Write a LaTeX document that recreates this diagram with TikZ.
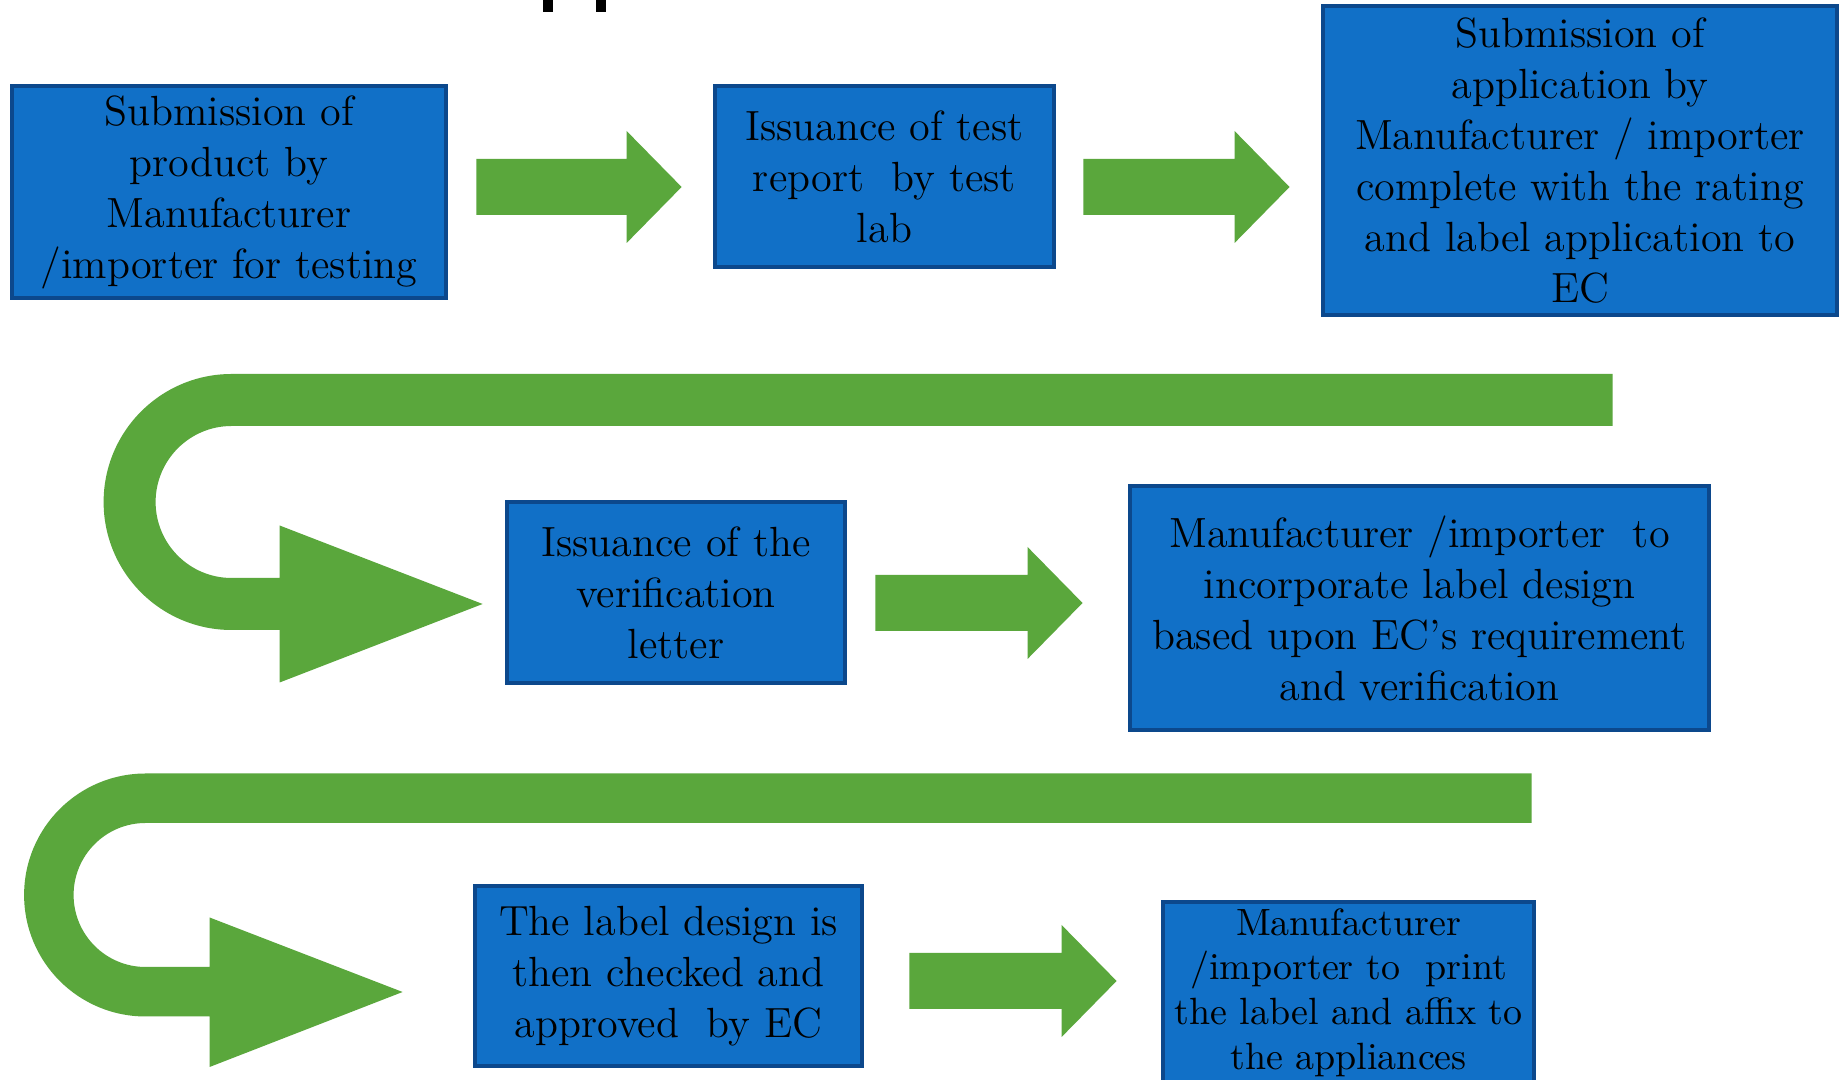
\documentclass[tikz,border=0pt]{standalone}
\usepackage{tikz}
\usetikzlibrary{calc}
\definecolor{boxblue}{RGB}{17,112,199}
\definecolor{boxedge}{RGB}{12,72,140}
\definecolor{arrowgreen}{RGB}{90,167,60}
\tikzset{
	procbox/.style={draw=boxedge, line width=1.3pt, fill=boxblue, align=center, inner sep=0pt, font=\fontsize{12}{14.5}\selectfont},
}
\def\blockarrow(#1)(#2){\fill[arrowgreen] ($(#1 |- #2)+(0,-28)$) -- ($(#2)+(-55,-28)$) -- ($(#2)+(-55,-56)$) -- (#2) -- ($(#2)+(-55,56)$) -- ($(#2)+(-55,28)$) -- ($(#1 |- #2)+(0,28)$) -- cycle;}

\begin{document}
\begin{tikzpicture}[x=0.01cm, y=-0.01cm]
			%%%%% START %%%%%
			\useasboundingbox (0,0) rectangle (1841,1080);
			\clip (0,0) rectangle (1841,1080);
			\fill[white] (0,0) rectangle (1841,1080);
			
			% cut title
			\fill[black] (543,0) rectangle (553,12);
			\fill[black] (596,0) rectangle (606,12);
			
			\node[procbox, minimum width=4.34cm, minimum height=2.12cm] (b1) at (229,192) {Submission of\\ product by\\ Manufacturer\\ /importer for testing};
			\node[procbox, minimum width=3.39cm, minimum height=1.81cm] (b2) at (884.5,176.5) {Issuance of test\\ report~ by test\\ lab};
			\node[procbox, minimum width=5.14cm, minimum height=3.09cm] (b3) at (1580,160.5) {Submission of\\ application by\\ Manufacturer / importer\\ complete with the rating\\ and label application to\\ EC};
			
			\node[procbox, minimum width=3.38cm, minimum height=1.81cm] (b4) at (676,592.5) {Issuance of the\\ verification\\ letter};
			\node[procbox, minimum width=5.79cm, minimum height=2.44cm] (b5) at (1419.5,608) {Manufacturer /importer~ to\\ incorporate label design\\ based upon EC's requirement\\ and verification};
			
			\node[procbox, minimum width=3.87cm, minimum height=1.80cm] (b6) at (668.5,976) {The label design is\\ then checked and\\ approved~ by EC};
			\node[procbox, minimum width=3.71cm, minimum height=1.81cm, font=\fontsize{10.8}{12.7}\selectfont] (b7) at (1348.5,992.5) {Manufacturer\\ /importer to~ print\\ the label and affix to\\ the appliances};
			
			% straight arrows
			\coordinate (t1) at ($(b1.east)+(28,0)$);
			\coordinate (h1) at ($(b2.west)+(-31,10.5)$);
			\blockarrow(t1)(h1);
			\coordinate (t2) at ($(b2.east)+(27,0)$);
			\coordinate (h2) at ($(b3.west)+(-31,26.5)$);
			\blockarrow(t2)(h2);
			\coordinate (t3) at ($(b4.east)+(28,0)$);
			\coordinate (h3) at ($(b5.west)+(-45,-5)$);
			\blockarrow(t3)(h3);
			\coordinate (t4) at ($(b6.east)+(45,0)$);
			\coordinate (h4) at ($(b6.east -| b7.west)+(-44,5)$);
			\blockarrow(t4)(h4);
			
			% u-turn arrows
			\coordinate (u1) at ($(b4.west)+(-22,11.5)$);
			\fill[arrowgreen] (u1) -- ++(-203,-78.5) -- ++(0,52.5) -- ++(-48,0) arc (90:270:76) -- ++(1381,0) -- ++(0,-52) -- ++(-1381,0) arc (270:90:128) -- ++(48,0) -- ++(0,52.5) -- cycle;
			\coordinate (u2) at ($(b6.west)+(-70,16)$);
			\fill[arrowgreen] (u2) -- ++(-193,-74.5) -- ++(0,49.5) -- ++(-64,0) arc (90:270:72) -- ++(1386,0) -- ++(0,-49.5) -- ++(-1386,0) arc (270:90:121.5) -- ++(64,0) -- ++(0,50.5) -- cycle;
			%%%%% END %%%%%
\end{tikzpicture}
\end{document}
